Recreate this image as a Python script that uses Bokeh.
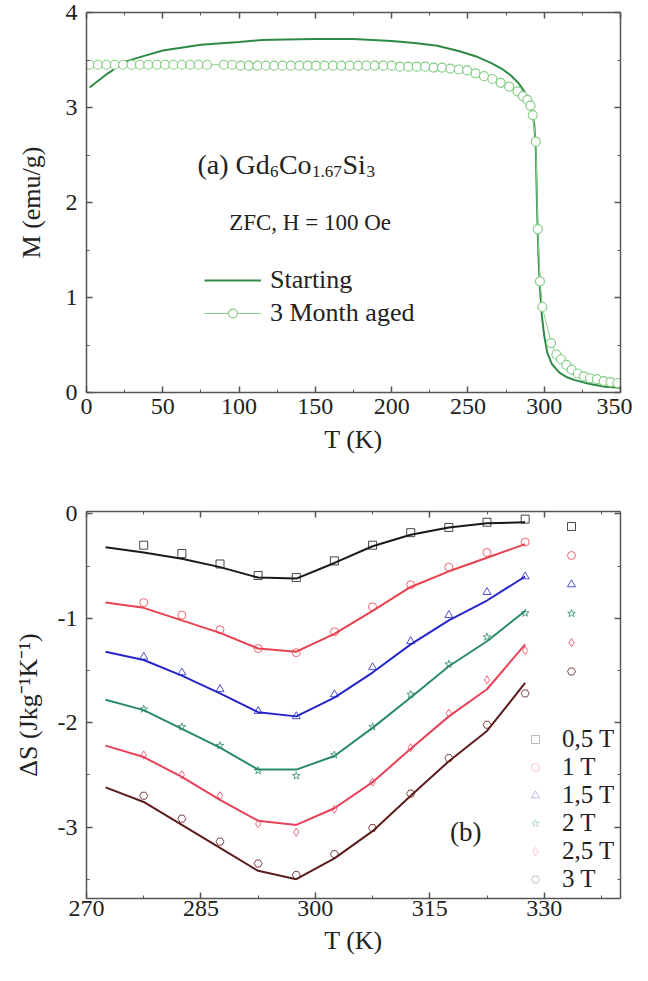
from bokeh.plotting import figure
from bokeh.models import (ColumnDataSource, Legend, LegendItem, LinearAxis,
                          FixedTicker, Range1d)
from bokeh.layouts import column
from bokeh.core.properties import value
from bokeh.embed import file_html
from bokeh.resources import INLINE

FONT = "Liberation Serif"
TXT = "#222222"
AX = "#555555"

# ---------------- panel (a) data ----------------
T_start = [2, 6, 10, 14, 18, 20, 25, 35, 50, 75, 100, 115, 130, 150, 175, 200,
           215, 230, 245, 255, 265, 272, 278, 283, 287, 290, 292, 293.5, 294.5,
           295.3, 296.2, 297.2, 298.5, 300, 302, 305, 310, 315, 320, 330, 340, 350]
M_start = [3.21, 3.26, 3.31, 3.36, 3.40, 3.45, 3.48, 3.53, 3.60, 3.66, 3.69, 3.71,
           3.715, 3.72, 3.72, 3.70, 3.68, 3.65, 3.59, 3.54, 3.47, 3.41, 3.34, 3.26,
           3.17, 3.07, 2.95, 2.82, 2.55, 1.95, 1.45, 1.10, 0.80, 0.60, 0.42, 0.30,
           0.21, 0.16, 0.13, 0.09, 0.06, 0.05]

T_aged = [2, 7.5, 13, 18.5, 24, 29.5, 35, 40.5, 46, 51.5, 57, 62.5, 68, 73.5, 79,
          90, 95.5, 101, 106.5, 112, 117.5, 123, 128.5, 134, 139.5, 145, 150.5,
          156, 161.5, 167, 172.5, 178, 183.5, 189, 194.5, 200, 205.5, 211, 216.5,
          222, 227.5, 233, 238.5, 244, 249.5, 255, 260.5, 266, 271.5, 277, 282.5,
          286, 289, 291, 292.5, 294.5, 295.8, 297.2, 298.8, 304.5, 308, 311,
          314.5, 318, 322, 326, 330, 334.5, 339, 343.5, 348]
M_aged = [3.45, 3.45, 3.45, 3.45, 3.45, 3.45, 3.45, 3.45, 3.45, 3.45, 3.45, 3.45,
          3.45, 3.45, 3.45, 3.45, 3.45, 3.44, 3.44, 3.44, 3.44, 3.44, 3.44, 3.44,
          3.44, 3.44, 3.44, 3.44, 3.44, 3.44, 3.44, 3.44, 3.44, 3.44, 3.44, 3.44,
          3.43, 3.43, 3.43, 3.43, 3.42, 3.42, 3.41, 3.40, 3.39, 3.36, 3.33, 3.30,
          3.26, 3.22, 3.17, 3.12, 3.08, 3.02, 2.92, 2.64, 1.72, 1.17, 0.90, 0.52,
          0.40, 0.35, 0.29, 0.24, 0.20, 0.17, 0.15, 0.14, 0.12, 0.11, 0.10]

xticks_a = [0, 50, 100, 150, 200, 250, 300, 350]
xminor_a = [25, 75, 125, 175, 225, 275, 325]
yticks_a = [0, 1, 2, 3, 4]
yminor_a = [0.5, 1.5, 2.5, 3.5]

# ---------------- panel (b) data ----------------
fields = ["0,5 T", "1 T", "1,5 T", "2 T", "2,5 T", "3 T"]
T_line = [272.5, 277.5, 282.5, 287.5, 292.5, 297.5, 302.5, 307.5, 312.5, 317.5, 322.5, 327.5]
T_mark = [277.5, 282.5, 287.5, 292.5, 297.5, 302.5, 307.5, 312.5, 317.5, 322.5, 327.5]

S_line_05 = [-0.32, -0.37, -0.43, -0.51, -0.61, -0.62, -0.47, -0.31, -0.20, -0.13, -0.09, -0.08]
S_line_10 = [-0.85, -0.90, -1.02, -1.14, -1.29, -1.32, -1.15, -0.93, -0.70, -0.55, -0.42, -0.29]
S_line_15 = [-1.32, -1.40, -1.55, -1.72, -1.90, -1.94, -1.76, -1.52, -1.25, -1.02, -0.83, -0.60]
S_line_20 = [-1.78, -1.88, -2.06, -2.24, -2.45, -2.45, -2.32, -2.05, -1.76, -1.46, -1.22, -0.93]
S_line_25 = [-2.22, -2.33, -2.52, -2.74, -2.94, -2.98, -2.82, -2.57, -2.25, -1.94, -1.68, -1.25]
S_line_30 = [-2.62, -2.76, -2.98, -3.20, -3.42, -3.50, -3.30, -3.04, -2.70, -2.37, -2.08, -1.62]

S_mark_05 = [-0.30, -0.38, -0.48, -0.59, -0.61, -0.45, -0.30, -0.18, -0.13, -0.08, -0.05]
S_mark_10 = [-0.85, -0.97, -1.11, -1.29, -1.33, -1.13, -0.89, -0.68, -0.51, -0.37, -0.27]
S_mark_15 = [-1.37, -1.52, -1.68, -1.89, -1.94, -1.73, -1.47, -1.22, -0.97, -0.75, -0.60]
S_mark_20 = [-1.87, -2.04, -2.22, -2.46, -2.51, -2.31, -2.04, -1.73, -1.44, -1.18, -0.95]
S_mark_25 = [-2.31, -2.50, -2.70, -2.97, -3.05, -2.83, -2.57, -2.24, -1.91, -1.59, -1.31]
S_mark_30 = [-2.70, -2.92, -3.14, -3.35, -3.46, -3.26, -3.01, -2.68, -2.34, -2.02, -1.72]

xticks_b = [270, 285, 300, 315, 330]
xminor_b = [277.5, 292.5, 307.5, 322.5, 337.5]
yticks_b = [-3, -2, -1, 0]
yminor_b = [-3.5, -2.5, -1.5, -0.5]
ylabels_b = ["-3", "-2", "-1", "0"]

lines_b = [S_line_05, S_line_10, S_line_15, S_line_20, S_line_25, S_line_30]
marks_b = [S_mark_05, S_mark_10, S_mark_15, S_mark_20, S_mark_25, S_mark_30]
colors_b = ["#1a1a1a", "#e8414e", "#2626c8", "#2a8a6c", "#e8415a", "#5c1c1c"]
markers_b = ["square", "circle", "triangle", "star", "diamond", "hex"]


def style_axes(p, xt, xm, yt, ym, xlabel, ylabel, ylab_standoff, xlab_standoff, xmaj_standoff):
    for ax in p.xaxis + p.yaxis:
        ax.axis_line_color = AX
        ax.axis_line_width = 1.5
        ax.major_tick_line_color = AX
        ax.minor_tick_line_color = AX
        ax.major_tick_line_width = 1.5
        ax.major_tick_in = 6
        ax.major_tick_out = 0
        ax.minor_tick_in = 3
        ax.minor_tick_out = 0
        ax.major_label_text_font = FONT
        ax.major_label_text_font_size = "24px"
        ax.major_label_text_color = TXT
        ax.axis_label_text_font = FONT
        ax.axis_label_text_font_size = "26px"
        ax.axis_label_text_font_style = "normal"
        ax.axis_label_text_color = TXT
    p.xaxis.ticker = FixedTicker(ticks=xt, minor_ticks=xm)
    p.yaxis.ticker = FixedTicker(ticks=yt, minor_ticks=ym)
    p.xaxis.axis_label = xlabel
    p.yaxis.axis_label = ylabel
    p.yaxis.major_label_standoff = 9
    p.yaxis.axis_label_standoff = ylab_standoff
    p.xaxis.axis_label_standoff = xlab_standoff
    p.xaxis.major_label_standoff = xmaj_standoff
    top = LinearAxis(ticker=FixedTicker(ticks=xt, minor_ticks=xm))
    right = LinearAxis(ticker=FixedTicker(ticks=yt, minor_ticks=ym))
    for ax in (top, right):
        ax.axis_line_color = AX
        ax.axis_line_width = 1.5
        ax.major_tick_line_color = AX
        ax.minor_tick_line_color = AX
        ax.major_tick_line_width = 1.5
        ax.major_tick_in = 6
        ax.major_tick_out = 0
        ax.minor_tick_in = 3
        ax.minor_tick_out = 0
        ax.major_label_text_font_size = "1px"
        ax.major_label_text_alpha = 0
        ax.major_label_standoff = 0
    p.add_layout(top, "above")
    p.add_layout(right, "right")
    p.xgrid.visible = False
    p.ygrid.visible = False
    p.outline_line_color = None


# ---------------- figure (a) ----------------
pa = figure(width=632, height=466, output_backend="svg", toolbar_location=None,
            x_range=Range1d(0, 350), y_range=Range1d(0, 4),
            min_border_left=86, min_border_right=12, min_border_top=12,
            min_border_bottom=74)
style_axes(pa, xticks_a, xminor_a, yticks_a, yminor_a, "T (K)", "M (emu/g)", 17, 8, 6)

src_s = ColumnDataSource(dict(x=T_start, y=M_start))
src_a = ColumnDataSource(dict(x=T_aged, y=M_aged))
r_s = pa.line("x", "y", source=src_s, line_color="#2e8b46", line_width=2)
r_al = pa.line("x", "y", source=src_a, line_color="#8fd08f", line_width=1)
r_ac = pa.scatter("x", "y", source=src_a, marker="circle", size=9,
                  line_color="#86cc86", line_width=1.2, fill_color="white")

ann_a = ColumnDataSource(dict(
    x=[72.7] * 6, y=[2.40] * 6,
    text=["(a) Gd", "6", "Co", "1.67", "Si", "3"],
    xo=[0, 72.5, 81.5, 114.5, 145, 169],
    yo=[0, 7, 0, 7, 0, 7],
    fs=["28px", "17px", "28px", "17px", "28px", "17px"]))
pa.text("x", "y", text="text", source=ann_a, x_offset="xo", y_offset="yo",
        text_font=value(FONT), text_font_size="fs", text_color=TXT,
        text_baseline="alphabetic", text_align="left")
ann_b = ColumnDataSource(dict(x=[93.5], y=[1.785], text=["ZFC, H = 100 Oe"]))
pa.text("x", "y", text="text", source=ann_b, text_font=value(FONT),
        text_font_size="23px", text_color=TXT, text_baseline="alphabetic")

leg_a = Legend(items=[LegendItem(label="Starting", renderers=[r_s]),
                      LegendItem(label="3 Month aged", renderers=[r_al, r_ac])],
               location=(118, 64), padding=0, margin=0, spacing=3,
               glyph_width=57, glyph_height=22, label_standoff=9,
               label_text_font=FONT, label_text_font_size="26px",
               label_text_color=TXT, border_line_color=None,
               background_fill_alpha=0)
pa.add_layout(leg_a)

# ---------------- figure (b) ----------------
pb = figure(width=632, height=499, output_backend="svg", toolbar_location=None,
            x_range=Range1d(270, 340), y_range=Range1d(-3.685, 0.023),
            min_border_left=86, min_border_right=5, min_border_top=45,
            min_border_bottom=67)
style_axes(pb, xticks_b, xminor_b, yticks_b, yminor_b, "T (K)",
           "\u0394S (Jkg\u207b\u00b9K\u207b\u00b9)", 12, 7, 2)
pb.yaxis[0].major_label_overrides = {t: s for t, s in zip(yticks_b, ylabels_b)}

items_a = []
items_b = []
for i in range(6):
    sl = ColumnDataSource(dict(x=T_line, y=lines_b[i]))
    sm = ColumnDataSource(dict(x=T_mark, y=marks_b[i]))
    pb.line("x", "y", source=sl, line_color=colors_b[i], line_width=2)
    rm = pb.scatter("x", "y", source=sm, marker=markers_b[i], size=8,
                    line_color=colors_b[i], line_alpha=0.8, line_width=1,
                    fill_color=None)
    rh = pb.scatter("x", "y", source=sm, marker=markers_b[i], size=8,
                    line_color=colors_b[i], line_alpha=0.3, line_width=1,
                    fill_color=None, visible=False)
    items_a.append(LegendItem(label=" ", renderers=[rm]))
    items_b.append(LegendItem(label=fields[i], renderers=[rh]))

leg_b1 = Legend(items=items_a, location=(475, 217), padding=0, margin=0,
                spacing=9, glyph_width=20, glyph_height=20, label_standoff=0,
                label_text_font_size="10px", border_line_color=None,
                background_fill_alpha=0, click_policy="none")
leg_b2 = Legend(items=items_b, location=(439, 5), padding=0, margin=0,
                spacing=0, glyph_width=20, glyph_height=28, label_standoff=17,
                label_text_font=FONT, label_text_font_size="25px",
                label_text_color=TXT, border_line_color=None,
                background_fill_alpha=0, inactive_fill_alpha=0.5)
pb.add_layout(leg_b1)
pb.add_layout(leg_b2)

ann_c = ColumnDataSource(dict(x=[319.7], y=[-3.05], text=["(b)"]))
pb.text("x", "y", text="text", source=ann_c, text_font=value(FONT),
        text_font_size="27px", text_color=TXT, text_baseline="middle",
        text_align="center")

layout = column(pa, pb, spacing=0)
open("out.html", "w").write(file_html(layout, INLINE))
